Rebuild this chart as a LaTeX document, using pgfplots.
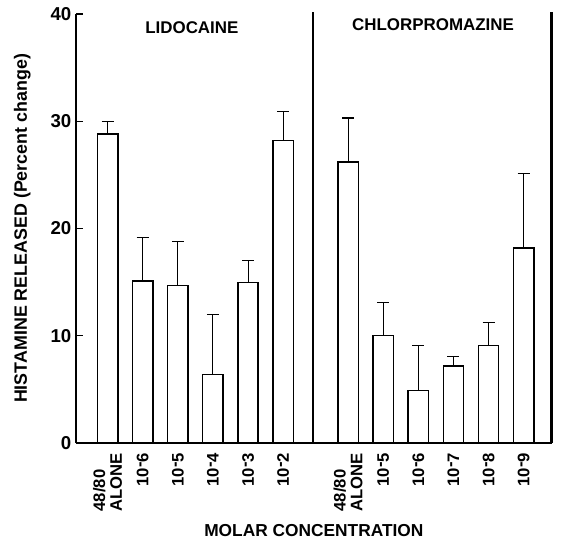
\documentclass[border=0pt]{standalone}
\usepackage{pgfplots}
\pgfplotsset{compat=1.18}
\usepackage{fontspec}
\setmainfont{Liberation Sans}

% bar heights and upward SEM
\newcommand{\mol}[1]{10\raisebox{0.4ex}{-}#1}
\newcommand{\fs}[1]{\fontsize{#1}{#1}\selectfont\bfseries}

\begin{document}
\begin{tikzpicture}
\begin{axis}[
    width=357pt, height=322pt,
    scale only axis,
    xmin=0, xmax=13.55,
    ymin=0, ymax=40,
    axis x line*=bottom,
    axis y line*=left,
    axis line style={line width=2pt},
    ytick={0,10,20,30,40},
    ytick style={line width=1pt, black},
    major tick length=5pt,
    xtick={0.9,1.9,2.9,3.9,4.9,5.9,7.75,8.75,9.75,10.75,11.75,12.75},
    xticklabels={{48/80\\ALONE},\mol{6},\mol{5},\mol{4},\mol{3},\mol{2},
                 {48/80\\ALONE},\mol{5},\mol{6},\mol{7},\mol{8},\mol{9}},
    xtick style={draw=none},
    xticklabel shift={4pt},
    x tick label style={rotate=90, anchor=east, align=left, font=\fs{12.5}},
    y tick label style={font=\fs{14}},
    /pgf/number format/assume math mode=true,
    xlabel={MOLAR CONCENTRATION},
    ylabel={HISTAMINE RELEASED (Percent change)},
    xlabel style={font=\fs{13}, at={(rel axis cs:0.5,-0.203)}, anchor=center},
    ylabel style={font=\fs{13.4}, yshift=8pt},
    clip=false,
]
\addplot[ybar, bar width=0.58, fill=white, draw=black, line width=1.1pt,
    error bars/.cd, y dir=plus, y explicit,
    error bar style={line width=0.8pt, black},
    error mark options={rotate=90, line width=0.8pt, mark size=4.5pt, black}]
    table[x=x, y=y, y error=e] {
x     y     e
0.9   28.8  1.2
1.9   15.1  4.1
2.9   14.7  4.1
3.9   6.4   5.6
4.9   14.95 2.05
5.9   28.2  2.7
7.75  26.2  4.1
8.75  10.0  3.1
9.75  4.9   4.2
10.75 7.2   0.9
11.75 9.1   2.1
12.75 18.2  6.9
};
\draw[line width=2pt] (axis cs:6.75,0) -- (axis cs:6.75,40.2);
\draw[line width=2pt] (axis cs:13.55,0) -- (axis cs:13.55,40.2);
\node[font=\fs{12.7}] at (axis cs:3.3,38.7) {LIDOCAINE};
\node[font=\fs{12.7}] at (axis cs:10.17,39.0) {CHLORPROMAZINE};
\coordinate (tl) at (axis cs:-2.165,41.3);
\coordinate (br) at (axis cs:13.9,-9.05);
\end{axis}
\pgfresetboundingbox
\path (tl) rectangle (br);
\end{tikzpicture}
\end{document}
